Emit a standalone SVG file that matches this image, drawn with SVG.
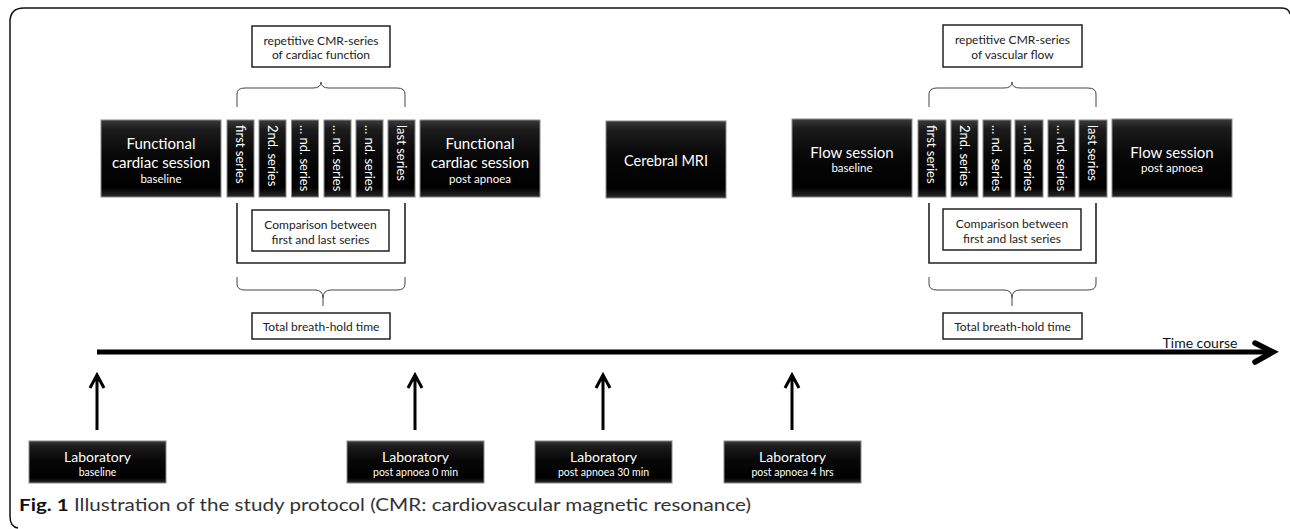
<svg xmlns="http://www.w3.org/2000/svg" width="1290" height="529" viewBox="0 0 1290 529">
<defs>
<linearGradient id="bev" x1="0" y1="0" x2="0" y2="1">
<stop offset="0" stop-color="#3a3a3a"/>
<stop offset="0.12" stop-color="#1c1c1c"/>
<stop offset="0.45" stop-color="#080808"/>
<stop offset="0.88" stop-color="#000"/>
<stop offset="1" stop-color="#2a2a2a"/>
</linearGradient>
<style>
.blk{fill:url(#bev);stroke:#8a8a8a;stroke-width:1}
.wbox{fill:#fff;stroke:#222;stroke-width:1.5}
.t{font-family:Lato,"Open Sans","Liberation Sans",sans-serif;text-anchor:middle;dominant-baseline:central}
.w{fill:#fff}
.big{font-size:15px}
.lab{font-size:14px}
.ser{font-size:13px;text-anchor:start}
.bt{font-size:12px;fill:#222}
.brace{fill:none;stroke:#444;stroke-width:1}
.brk{fill:none;stroke:#222;stroke-width:1.6}
.arr{fill:none;stroke:#000;stroke-width:3}
</style>
</defs>
<rect width="1290" height="529" fill="#fff"/>
<path d="M1290,14 Q1289,8 1281,8 L24,8 Q10,8 10,22 L10,516 Q10,527 18,528" fill="none" stroke="#111" stroke-width="1.5"/>

<g id="connectors">
<path class="brace" d="M237,107 V94 Q237,88 245,88 H313 Q321,88 321,82 Q321,88 329,88 H397 Q405,88 405,94 V107"/>
<path class="brk" d="M237,203 V263 H405 V203"/>
<path class="brace" d="M237,277 V284 Q237,290 245,290 H315 Q323,290 323,298 V306 M323,298 Q323,290 331,290 H397 Q405,290 405,284 V277"/>
<path class="brace" d="M929,107 V94 Q929,88 937,88 H1004 Q1012,88 1012,82 Q1012,88 1020,88 H1088 Q1096,88 1096,94 V107"/>
<path class="brk" d="M929,203 V263 H1096 V203"/>
<path class="brace" d="M929,277 V284 Q929,290 937,290 H1004 Q1012,290 1012,298 V306 M1012,298 Q1012,290 1020,290 H1088 Q1096,290 1096,284 V277"/>
<path d="M97,352 H1270" stroke="#000" stroke-width="5" fill="none"/>
<path d="M1255,343 L1273,352 L1255,362" stroke="#000" stroke-width="5.5" fill="none" stroke-linecap="round" stroke-linejoin="miter"/>
<path class="arr" d="M97,430 V376 M90,388 L97,375 L104,388"/>
<path class="arr" d="M415,430 V376 M408,388 L415,375 L422,388"/>
<path class="arr" d="M603,430 V376 M596,388 L603,375 L610,388"/>
<path class="arr" d="M792,430 V376 M785,388 L792,375 L799,388"/>
</g>

<g id="rep-cardiac"><rect class="wbox" x="252" y="26" width="138" height="41"/>
<text class="t bt" x="321" y="40">repetitive CMR-series</text>
<text class="t bt" x="321" y="54.5">of cardiac function</text></g>

<g id="func-base"><rect class="blk" x="101" y="120" width="120" height="77"/>
<text class="t w big" x="161" y="143">Functional</text>
<text class="t w big" x="161" y="162">cardiac session</text>
<text class="t w" x="161" y="178" style="font-size:11.5px">baseline</text></g>

<g id="c-s1"><rect class="blk" x="227" y="120" width="27" height="77"/><text class="t w ser" transform="translate(240.5,125) rotate(90)">first series</text></g>
<g id="c-s2"><rect class="blk" x="259" y="120" width="27" height="77"/><text class="t w ser" transform="translate(272.5,125) rotate(90)">2nd. series</text></g>
<g id="c-s3"><rect class="blk" x="291.5" y="120" width="27" height="77"/><text class="t w ser" transform="translate(305,125) rotate(90)">... nd. series</text></g>
<g id="c-s4"><rect class="blk" x="324" y="120" width="27" height="77"/><text class="t w ser" transform="translate(337.5,125) rotate(90)">... nd. series</text></g>
<g id="c-s5"><rect class="blk" x="356" y="120" width="27" height="77"/><text class="t w ser" transform="translate(369.5,125) rotate(90)">... nd. series</text></g>
<g id="c-s6"><rect class="blk" x="388" y="120" width="27" height="77"/><text class="t w ser" transform="translate(401.5,125) rotate(90)">last series</text></g>

<g id="func-post"><rect class="blk" x="420" y="120" width="120" height="77"/>
<text class="t w big" x="480" y="143">Functional</text>
<text class="t w big" x="480" y="162">cardiac session</text>
<text class="t w" x="480" y="178" style="font-size:11.5px">post apnoea</text></g>

<g id="cmp-cardiac"><rect class="wbox" x="252" y="210" width="137" height="41"/>
<text class="t bt" x="320.5" y="224">Comparison between</text>
<text class="t bt" x="320.5" y="239">first and last series</text></g>

<g id="tot-cardiac"><rect class="wbox" x="252" y="313" width="138" height="26"/>
<text class="t bt" x="321" y="326.5">Total breath-hold time</text></g>

<g id="cerebral"><rect class="blk" x="606" y="121" width="120" height="77"/>
<text class="t w big" x="666" y="160" style="font-size:14.5px">Cerebral MRI</text></g>

<g id="rep-flow"><rect class="wbox" x="943" y="25" width="139" height="42"/>
<text class="t bt" x="1012.5" y="39.5">repetitive CMR-series</text>
<text class="t bt" x="1012.5" y="54">of vascular flow</text></g>

<g id="flow-base"><rect class="blk" x="792" y="119" width="120" height="78"/>
<text class="t w big" x="852" y="152">Flow session</text>
<text class="t w" x="852" y="167" style="font-size:11.5px">baseline</text></g>

<g id="f-s1"><rect class="blk" x="918" y="120" width="28" height="77"/><text class="t w ser" transform="translate(932,125) rotate(90)">first series</text></g>
<g id="f-s2"><rect class="blk" x="951" y="120" width="27" height="77"/><text class="t w ser" transform="translate(964.5,125) rotate(90)">2nd. series</text></g>
<g id="f-s3"><rect class="blk" x="983" y="120" width="28" height="77"/><text class="t w ser" transform="translate(997,125) rotate(90)">... nd. series</text></g>
<g id="f-s4"><rect class="blk" x="1015" y="120" width="28" height="77"/><text class="t w ser" transform="translate(1029,125) rotate(90)">... nd. series</text></g>
<g id="f-s5"><rect class="blk" x="1048" y="120" width="27" height="77"/><text class="t w ser" transform="translate(1061.5,125) rotate(90)">... nd. series</text></g>
<g id="f-s6"><rect class="blk" x="1079" y="120" width="28" height="77"/><text class="t w ser" transform="translate(1093,125) rotate(90)">last series</text></g>

<g id="flow-post"><rect class="blk" x="1112" y="119" width="120" height="78"/>
<text class="t w big" x="1172" y="152">Flow session</text>
<text class="t w" x="1172" y="167" style="font-size:11.5px">post apnoea</text></g>

<g id="cmp-flow"><rect class="wbox" x="943" y="209" width="138" height="41"/>
<text class="t bt" x="1012" y="223">Comparison between</text>
<text class="t bt" x="1012" y="238">first and last series</text></g>

<g id="tot-flow"><rect class="wbox" x="943" y="313" width="139" height="26"/>
<text class="t bt" x="1012.5" y="326.5">Total breath-hold time</text></g>

<g id="timecourse"><text class="t" x="1200" y="342" style="font-size:14px;fill:#111">Time course</text></g>

<g id="lab-base"><rect class="blk" x="29" y="441" width="137" height="42"/>
<text class="t w lab" x="97.5" y="456">Laboratory</text>
<text class="t w" x="97.5" y="472" style="font-size:10.5px">baseline</text></g>
<g id="lab-0"><rect class="blk" x="347" y="441" width="137" height="42"/>
<text class="t w lab" x="415.5" y="456">Laboratory</text>
<text class="t w" x="415.5" y="472" style="font-size:10.5px">post apnoea 0 min</text></g>
<g id="lab-30"><rect class="blk" x="535" y="441" width="137" height="42"/>
<text class="t w lab" x="603.5" y="456">Laboratory</text>
<text class="t w" x="603.5" y="472" style="font-size:10.5px">post apnoea 30 min</text></g>
<g id="lab-4"><rect class="blk" x="724" y="441" width="137" height="42"/>
<text class="t w lab" x="792.5" y="456">Laboratory</text>
<text class="t w" x="792.5" y="472" style="font-size:10.5px">post apnoea 4 hrs</text></g>

<g id="caption"><text x="19" y="511" textLength="732" lengthAdjust="spacingAndGlyphs" style="font-family:Lato,'Open Sans','Liberation Sans',sans-serif;font-size:17.5px;fill:#333"><tspan font-weight="bold" fill="#111">Fig. 1</tspan> Illustration of the study protocol (CMR: cardiovascular magnetic resonance)</text></g>
</svg>
